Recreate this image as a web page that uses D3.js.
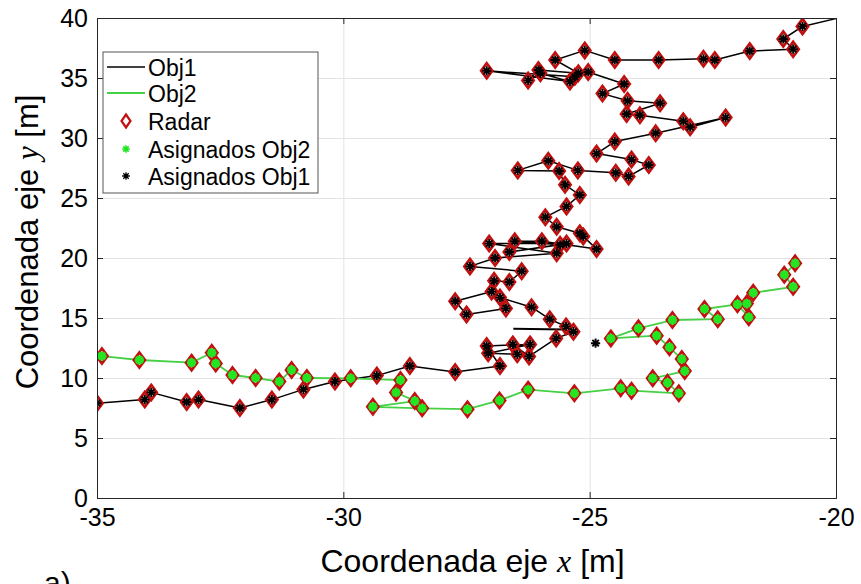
<!DOCTYPE html>
<html>
<head>
<meta charset="utf-8">
<script src="https://cdn.jsdelivr.net/npm/d3@7"></script>
<style>
  html, body { margin: 0; padding: 0; background: #fff; }
  svg { display: block; }
  text { font-family: Arial, "Liberation Sans", sans-serif; fill: #000; }
</style>
</head>
<body>
<svg id="chart" width="861" height="584"></svg>
<script>
// Axis ticks
const xTicks = [-35, -30, -25, -20];
const yTicks = [0, 5, 10, 15, 20, 25, 30, 35, 40];

// Radar detections assigned to Obj1, in track order [x, y]
const obj1Hits = [
  [-35.00, 7.9], [-34.03, 8.2], [-33.90, 8.8], [-33.18, 8.0], [-32.94, 8.2], [-32.10, 7.5],
  [-31.45, 8.2], [-30.81, 9.05], [-30.17, 9.7], [-29.32, 10.2], [-28.65, 11.0], [-27.73, 10.5],
  [-26.82, 11.0], [-27.09, 12.67], [-26.21, 12.8], [-27.06, 12.06], [-26.47, 11.97], [-26.56, 12.8],
  [-26.23, 11.8], [-25.68, 13.3], [-25.33, 13.86], [-25.48, 14.3],
  [-25.81, 14.9], [-26.18, 15.9], [-26.82, 16.7], [-26.70, 15.8], [-27.50, 15.3], [-27.73, 16.4],
  [-26.99, 17.2], [-26.94, 18.1], [-26.63, 18.0], [-26.38, 18.9], [-27.43, 19.3], [-26.92, 20.0],
  [-25.67, 20.4], [-27.04, 21.2], [-25.47, 21.2], [-26.63, 20.5], [-25.60, 21.1], [-26.52, 21.4],
  [-25.97, 21.4], [-24.86, 20.75], [-25.13, 21.8], [-25.20, 22.06], [-25.67, 22.6],
  [-25.90, 23.4], [-25.47, 24.3], [-25.20, 25.25], [-25.50, 26.1], [-25.62, 27.25], [-26.46, 27.3],
  [-25.84, 28.1], [-25.24, 27.3], [-24.47, 27.1], [-24.21, 26.8], [-23.80, 27.75], [-24.15, 28.2],
  [-24.86, 28.7], [-24.49, 29.7], [-23.66, 30.4],
  [-22.24, 31.7], [-22.96, 30.9], [-23.10, 31.4], [-23.98, 31.9], [-24.25, 32.0], [-23.57, 32.9],
  [-24.23, 33.1], [-24.74, 33.7], [-24.30, 34.5],
  [-25.03, 35.5], [-25.30, 35.1], [-27.09, 35.6], [-25.40, 34.7], [-26.00, 35.4], [-26.25, 34.8],
  [-26.04, 35.67], [-25.23, 35.4], [-25.70, 36.5], [-25.10, 37.3],
  [-24.49, 36.5], [-23.60, 36.5], [-22.69, 36.6], [-22.46, 36.5], [-21.75, 37.25], [-20.87, 37.4],
  [-21.07, 38.25], [-20.68, 39.3]
];
// Track continuation past the last detection
const obj1Tail = [[-20.0, 39.95]];
// Short track fragment without detections
const obj1Stub = [[-26.55, 14.1], [-25.50, 14.05]];
// Assignment to Obj1 without a radar return
const obj1Extra = [[-24.88, 12.9]];

// Radar detections assigned to Obj2, in track order [x, y]
const obj2Hits = [
  [-34.90, 11.83], [-34.14, 11.5], [-33.08, 11.28], [-32.67, 12.1], [-32.59, 11.2], [-32.25, 10.25],
  [-31.78, 10.0], [-31.30, 9.7], [-31.05, 10.67], [-30.74, 10.0], [-29.85, 9.97], [-28.84, 9.83],
  [-28.93, 8.8], [-28.55, 8.08], [-29.40, 7.6], [-28.40, 7.47], [-27.48, 7.4], [-26.83, 8.13],
  [-26.25, 9.03], [-25.31, 8.72], [-24.37, 9.14], [-24.15, 8.94], [-23.19, 8.72], [-23.42, 9.6],
  [-23.72, 9.97], [-23.07, 10.58], [-23.13, 11.58], [-23.38, 12.56], [-23.64, 13.53], [-24.57, 13.3],
  [-24.01, 14.14], [-23.32, 14.83], [-22.40, 14.9], [-22.67, 15.75], [-22.00, 16.14], [-21.77, 15.06],
  [-21.81, 16.2], [-21.68, 17.1], [-20.87, 17.6], [-21.05, 18.6], [-20.83, 19.56]
];

const legendLabels = ["Obj1", "Obj2", "Radar", "Asignados Obj2", "Asignados Obj1"];

const C = {
  obj1: "#000000",
  obj2: "#45d045",
  radar: "#c01010",
  asig2: "#22e622",
  asig1: "#000000",
  axis: "#262626",
  grid: "#e3e3e3"
};

const svg = d3.select("#chart");
const M = { left: 97, right: 836, top: 18, bottom: 498 };

const x = d3.scaleLinear().domain([-35, -20]).range([M.left, M.right]);
const y = d3.scaleLinear().domain([0, 40]).range([M.bottom, M.top]);

// Grid
const grid = svg.append("g");
grid.append("g")
  .attr("transform", `translate(0,${M.bottom})`)
  .call(d3.axisBottom(x).tickValues(xTicks).tickSize(-(M.bottom - M.top)).tickFormat(""))
  .call(g => g.select(".domain").remove())
  .call(g => g.selectAll("line").attr("stroke", C.grid).attr("stroke-width", 1));
grid.append("g")
  .attr("transform", `translate(${M.left},0)`)
  .call(d3.axisLeft(y).tickValues(yTicks).tickSize(-(M.right - M.left)).tickFormat(""))
  .call(g => g.select(".domain").remove())
  .call(g => g.selectAll("line").attr("stroke", C.grid).attr("stroke-width", 1));

// Clip to plotting area
svg.append("clipPath").attr("id", "plotClip")
  .append("rect")
  .attr("x", M.left).attr("y", M.top)
  .attr("width", M.right - M.left).attr("height", M.bottom - M.top);

const plot = svg.append("g").attr("clip-path", "url(#plotClip)");

const line = d3.line().x(d => x(d[0])).y(d => y(d[1]));

// Obj1 track
plot.append("path")
  .datum(obj1Hits.concat(obj1Tail))
  .attr("d", line)
  .attr("fill", "none")
  .attr("stroke", C.obj1)
  .attr("stroke-width", 1.5)
  .attr("stroke-linejoin", "round");
plot.append("path")
  .datum(obj1Stub)
  .attr("d", line)
  .attr("fill", "none")
  .attr("stroke", C.obj1)
  .attr("stroke-width", 2);

// Obj2 track
plot.append("path")
  .datum(obj2Hits)
  .attr("d", line)
  .attr("fill", "none")
  .attr("stroke", C.obj2)
  .attr("stroke-width", 1.8)
  .attr("stroke-linejoin", "round");

// Marker shapes
function diamond(w, h) {
  return `M0,${-h}L${w},0L0,${h}L${-w},0Z`;
}
function asterisk(r) {
  const d = r * Math.SQRT1_2;
  return `M${-r},0L${r},0M0,${-r}L0,${r}M${-d},${-d}L${d},${d}M${-d},${d}L${d},${-d}`;
}

// Radar returns
const radar = obj1Hits.concat(obj2Hits);
plot.append("g").selectAll("path")
  .data(radar)
  .join("path")
  .attr("transform", d => `translate(${x(d[0])},${y(d[1])})`)
  .attr("d", diamond(5.6, 7.5))
  .attr("fill", "none")
  .attr("stroke", C.radar)
  .attr("stroke-width", 2.7);

// Assigned to Obj2
plot.append("g").selectAll("path")
  .data(obj2Hits)
  .join("path")
  .attr("transform", d => `translate(${x(d[0])},${y(d[1])})`)
  .attr("d", asterisk(4.6))
  .attr("fill", "none")
  .attr("stroke", C.asig2)
  .attr("stroke-width", 2.8);

// Assigned to Obj1
plot.append("g").selectAll("path")
  .data(obj1Hits.concat(obj1Extra))
  .join("path")
  .attr("transform", d => `translate(${x(d[0])},${y(d[1])})`)
  .attr("d", asterisk(4.6))
  .attr("fill", "none")
  .attr("stroke", C.asig1)
  .attr("stroke-width", 1.9);

// Axes (ticks pointing inward, box)
const fontTick = 25;
const xAxis = svg.append("g")
  .attr("transform", `translate(0,${M.bottom})`)
  .call(d3.axisBottom(x).tickValues(xTicks).tickSize(-6).tickPadding(10).tickFormat(d => String(d)));
const yAxis = svg.append("g")
  .attr("transform", `translate(${M.left},0)`)
  .call(d3.axisLeft(y).tickValues(yTicks).tickSize(-6).tickPadding(9).tickFormat(d => String(d)));
const xTop = svg.append("g")
  .attr("transform", `translate(0,${M.top})`)
  .call(d3.axisTop(x).tickValues(xTicks).tickSize(-6).tickFormat(""));
const yRight = svg.append("g")
  .attr("transform", `translate(${M.right},0)`)
  .call(d3.axisRight(y).tickValues(yTicks).tickSize(-6).tickFormat(""));

[xAxis, yAxis, xTop, yRight].forEach(g => {
  g.select(".domain").attr("stroke", C.axis).attr("stroke-width", 1);
  g.selectAll(".tick line").attr("stroke", C.axis);
  g.selectAll(".tick text")
    .attr("fill", "#000")
    .style("font-family", "Arial, 'Liberation Sans', sans-serif")
    .style("font-size", fontTick + "px");
});

// Axis titles
const xt = svg.append("text")
  .attr("x", (M.left + M.right) / 2 + 6)
  .attr("y", 572)
  .attr("text-anchor", "middle")
  .style("font-size", "32px");
xt.append("tspan").text("Coordenada eje ");
xt.append("tspan").style("font-family", "'Liberation Serif', 'DejaVu Serif', serif").style("font-style", "italic").text("x");
xt.append("tspan").text(" [m]");

const yt = svg.append("text")
  .attr("transform", `translate(38,${(M.top + M.bottom) / 2 - 16}) rotate(-90)`)
  .attr("text-anchor", "middle")
  .style("font-size", "31px");
yt.append("tspan").text("Coordenada eje ");
yt.append("tspan").style("font-family", "'Liberation Serif', 'DejaVu Serif', serif").style("font-style", "italic").text("y");
yt.append("tspan").text(" [m]");

// Panel tag
svg.append("text")
  .attr("x", 44).attr("y", 593)
  .style("font-size", "30px")
  .text("a)");

// Legend
const lg = svg.append("g");
lg.append("rect")
  .attr("x", 103).attr("y", 52)
  .attr("width", 215).attr("height", 141)
  .attr("fill", "#fff")
  .attr("stroke", "#555")
  .attr("stroke-width", 1);

const rowY = [67, 93, 121, 149, 176];
const textX = 148;
const iconX = 126;

lg.append("line").attr("x1", 107).attr("x2", 145).attr("y1", rowY[0]).attr("y2", rowY[0])
  .attr("stroke", C.obj1).attr("stroke-width", 1.5);
lg.append("line").attr("x1", 107).attr("x2", 145).attr("y1", rowY[1]).attr("y2", rowY[1])
  .attr("stroke", C.obj2).attr("stroke-width", 1.8);
lg.append("path").attr("transform", `translate(${iconX},${rowY[2]})`)
  .attr("d", diamond(4.5, 6.5)).attr("fill", "none").attr("stroke", C.radar).attr("stroke-width", 2.2);
lg.append("path").attr("transform", `translate(${iconX},${rowY[3]})`)
  .attr("d", asterisk(3.8)).attr("fill", "none").attr("stroke", C.asig2).attr("stroke-width", 1.6);
lg.append("path").attr("transform", `translate(${iconX},${rowY[4]})`)
  .attr("d", asterisk(3.8)).attr("fill", "none").attr("stroke", C.asig1).attr("stroke-width", 1.3);

lg.selectAll("text.lab")
  .data(legendLabels)
  .join("text")
  .attr("class", "lab")
  .attr("x", textX)
  .attr("y", (d, i) => rowY[i] + 9)
  .style("font-size", "23px")
  .text(d => d);
</script>
</body>
</html>
